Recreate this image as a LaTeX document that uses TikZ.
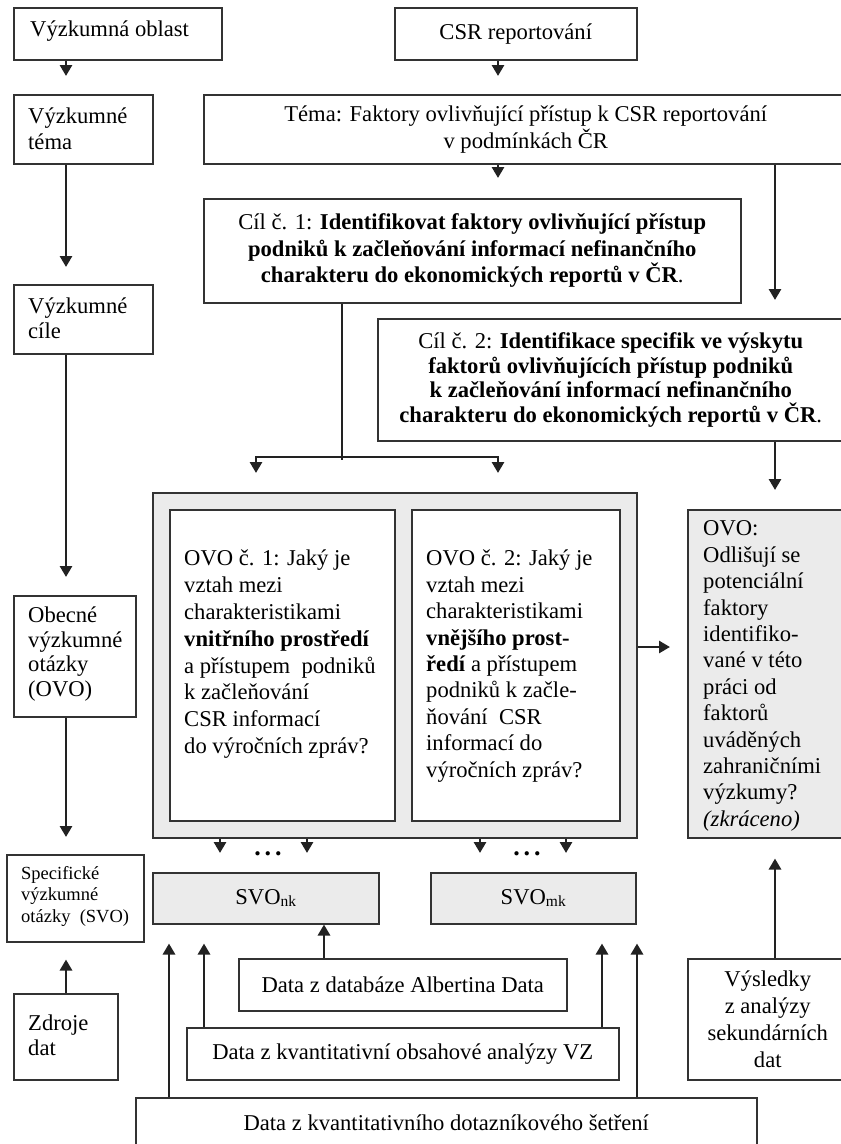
\documentclass[tikz,border=0pt]{standalone}
\usepackage{fontspec}
\setmainfont{Liberation Serif}
\usetikzlibrary{arrows.meta,calc}
\definecolor{linec}{HTML}{333333}
\definecolor{arrc}{HTML}{222222}
\definecolor{boxfill}{HTML}{EBEBEB}
\begin{document}
\begin{tikzpicture}[x=1pt,y=-1pt,
  box/.style={draw=linec, line width=1.5pt, inner sep=0pt, anchor=north west, fill=white},
  gbox/.style={box, fill=boxfill},
  ctxt/.style={font=\fontsize{22.6}{26.5}\selectfont, align=center},
  txt/.style={inner sep=0pt, font=\fontsize{22.6}{26.5}\selectfont},
  ltxt/.style={txt, align=left, anchor=west},
  arr/.style={draw=arrc, line width=2.8pt, -{Triangle[width=12pt,length=11pt]}},
  conn/.style={draw=arrc, line width=2.8pt},
  dotsty/.style={inner sep=0pt, font=\fontsize{26}{26}\selectfont\bfseries},
]
\useasboundingbox (0,0) rectangle (841,1144);
\clip (0,0) rectangle (841,1144);
\fill[white] (0,0) rectangle (841,1144);

% ---------- left column ----------
\node[box, minimum width=208pt, minimum height=52pt] (oblast) at (13,7) {};
\node[ltxt] (oblastT) at (30,31) {Výzkumná oblast};
\node[box, minimum width=139pt, minimum height=69pt] (tema) at (13,94) {};
\node[ltxt, font=\fontsize{22.6}{26}\selectfont] (temaT) at (28,129) {Výzkumné\\téma};
\node[box, minimum width=139pt, minimum height=69pt] (cile) at (13,284) {};
\node[ltxt, font=\fontsize{22.6}{25}\selectfont] (cileT) at (28,318) {Výzkumné\\cíle};
\node[box, minimum width=122pt, minimum height=121pt] (obecne) at (13,595) {};
\node[ltxt, font=\fontsize{22.6}{24.5}\selectfont] (obecneT) at (28,654) {Obecné\\výzkumné\\otázky\\(OVO)};
\node[box, minimum width=137pt, minimum height=87pt] (spec) at (6,854) {};
\node[ltxt, font=\fontsize{18.5}{21.5}\selectfont] (specT) at (21,896) {Specifické\\výzkumné\\otázky\ \ (SVO)};
\node[box, minimum width=104pt, minimum height=86pt] (zdroje) at (13,993) {};
\node[ltxt, font=\fontsize{22.6}{25}\selectfont] (zdrojeT) at (28,1035) {Zdroje\\dat};

% ---------- top / middle ----------
\node[box, ctxt, minimum width=242pt, minimum height=52pt] (csr) at (394,7) {CSR reportování};
\node[box, ctxt, font=\fontsize{22.6}{27}\selectfont, minimum width=644pt, minimum height=69pt] (temaR) at (203,94)
  {Téma: Faktory ovlivňující přístup k CSR reportování\\v podmínkách ČR};
\node[box, ctxt, minimum width=537pt, minimum height=104pt] (cil1) at (203,198)
  {Cíl č. 1: \textbf{Identifikovat faktory ovlivňující přístup}\\\textbf{podniků k začleňování informací nefinančního}\\\textbf{charakteru do ekonomických reportů v ČR}.};
\node[box, ctxt, font=\fontsize{22.6}{24.5}\selectfont, minimum width=466pt, minimum height=122pt] (cil2) at (377,318)
  {Cíl č. 2: \textbf{Identifikace specifik ve výskytu}\\\textbf{faktorů ovlivňujících přístup podniků}\\\textbf{k začleňování informací nefinančního}\\\textbf{charakteru do ekonomických reportů v ČR}.};

\node[gbox, minimum width=484pt, minimum height=345pt] (cont) at (152,492) {};
\node[box, minimum width=225pt, minimum height=311pt] (ovo1) at (169,509) {};
\node[box, minimum width=208pt, minimum height=311pt] (ovo2) at (411,509) {};
\node[txt, align=left, anchor=north west, font=\fontsize{22.6}{26.8}\selectfont] (ovo1T) at (184,550)
  {OVO č. 1: Jaký je\\vztah mezi\\charakteristikami\\\textbf{vnitřního prostředí}\\a přístupem\ \ podniků\\k začleňování\\CSR informací\\do výročních zpráv?};
\node[txt, align=left, anchor=north west, font=\fontsize{22.6}{26.4}\selectfont] (ovo2T) at (426,550)
  {OVO č. 2: Jaký je\\vztah mezi\\charakteristikami\\\textbf{vnějšího prost-}\\\textbf{ředí} a přístupem\\podniků k začle-\\ňování\ \ CSR\\informací do\\výročních zpráv?};
\node[gbox, minimum width=158pt, minimum height=328pt] (ovoR) at (687,509) {};
\node[ltxt, font=\fontsize{22.6}{26.4}\selectfont] (ovoRT) at (703,676)
  {OVO:\\Odlišují se\\potenciální\\faktory\\identifiko-\\vané v této\\práci od\\faktorů\\uváděných\\zahraničními\\výzkumy?\\\textit{(zkráceno)}};

\node[gbox, ctxt, minimum width=226pt, minimum height=51pt] (svonk) at (152,872)
  {SVO\raisebox{-2pt}{\fontsize{15.5}{15.5}\selectfont nk}};
\node[gbox, ctxt, minimum width=205pt, minimum height=51pt] (svomk) at (430,872)
  {SVO\raisebox{-2pt}{\fontsize{15.5}{15.5}\selectfont mk}};
\node[dotsty] (dots1) at (268,854) {.\hspace{4pt}.\hspace{4pt}.};
\node[dotsty] (dots2) at (527,854) {.\hspace{4pt}.\hspace{4pt}.};

% ---------- bottom ----------
\node[box, ctxt, minimum width=328pt, minimum height=52pt] (alb) at (238,958) {Data z databáze Albertina Data};
\node[box, ctxt, minimum width=432pt, minimum height=52pt] (kva) at (186,1027) {Data z kvantitativní obsahové analýzy VZ};
\node[box, ctxt, minimum width=621pt, minimum height=49pt] (bottom) at (135,1097) {Data z kvantitativního dotazníkového šetření};
\node[box, ctxt, font=\fontsize{22.6}{27}\selectfont, minimum width=160pt, minimum height=121pt] (vysl) at (687,958)
  {Výsledky\\z analýzy\\sekundárních\\dat};

% ---------- connector x/y positions ----------
\coordinate (xL) at (66,0);
\coordinate (xC) at (498,0);
\coordinate (xR) at (775,0);
\coordinate (xA) at (256,0);
\coordinate (jn) at (342,457);
\coordinate (yM) at (0,647);
\coordinate (xd1) at (220,0);
\coordinate (xd2) at (307,0);
\coordinate (xd3) at (480,0);
\coordinate (xd4) at (566,0);
\coordinate (xu1) at (169,0);
\coordinate (xu2) at (204,0);
\coordinate (xu3) at (324,0);
\coordinate (xu4) at (602,0);
\coordinate (xu5) at (637,0);

% left column arrows
\draw[arr, shorten >=18pt] (oblast.south -| xL) -- (tema.north -| xL);
\draw[arr, shorten >=17pt] (tema.south -| xL) -- (cile.north -| xL);
\draw[arr, shorten >=18pt] (cile.south -| xL) -- (obecne.north -| xL);
\draw[arr, shorten >=17pt] (obecne.south -| xL) -- (spec.north -| xL);
\draw[arr, shorten >=17pt] (zdroje.north -| xL) -- (spec.south -| xL);

% main flow
\draw[arr, shorten >=18pt] (csr.south -| xC) -- (temaR.north -| xC);
\draw[arr, shorten >=20pt] (temaR.south -| xC) -- (cil1.north -| xC);
\draw[arr, shorten >=18pt] (temaR.south -| xR) -- (cil2.north -| xR);
\draw[conn] (cil1.south -| jn) -- ++(0,156.4);
\draw[arr, shorten >=19pt] (jn) -| (cont.north -| xA);
\draw[arr, shorten >=19pt] (jn) -| (cont.north -| xC);
\draw[arr, shorten >=19pt] (cil2.south -| xR) -- (ovoR.north -| xR);
\draw[arr, shorten >=17pt] (cont.east |- yM) -- (ovoR.west |- yM);
\draw[arr, shorten >=20pt] (vysl.north -| xR) -- (ovoR.south -| xR);

% down to SVO
\draw[arr, shorten >=19pt] (cont.south -| xd1) -- (svonk.north -| xd1);
\draw[arr, shorten >=19pt] (cont.south -| xd2) -- (svonk.north -| xd2);
\draw[arr, shorten >=19pt] (cont.south -| xd3) -- (svomk.north -| xd3);
\draw[arr, shorten >=19pt] (cont.south -| xd4) -- (svomk.north -| xd4);

% up from data
\draw[arr, shorten >=19pt] (bottom.north -| xu1) -- (svonk.south -| xu1);
\draw[arr, shorten >=19pt] (kva.north -| xu2) -- (svonk.south -| xu2);
\draw[arr] (alb.north -| xu3) -- (svonk.south -| xu3);
\draw[arr, shorten >=19pt] (kva.north -| xu4) -- (svomk.south -| xu4);
\draw[arr, shorten >=19pt] (bottom.north -| xu5) -- (svomk.south -| xu5);
\end{tikzpicture}
\end{document}
